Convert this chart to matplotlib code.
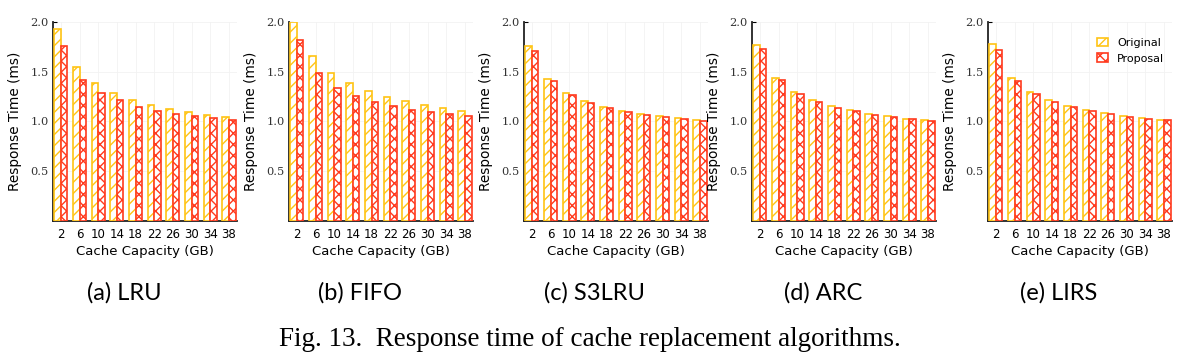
import matplotlib
matplotlib.use("Agg")
import matplotlib.pyplot as plt
import numpy as np

capacities = ["2", "6", "10", "14", "18", "22", "26", "30", "34", "38"]
subcaptions = ["(a) LRU", "(b) FIFO", "(c) S3LRU", "(d) ARC", "(e) LIRS"]

lru_original = [1.93, 1.55, 1.385, 1.284, 1.217, 1.166, 1.126, 1.092, 1.069, 1.049]
lru_proposal = [1.761, 1.422, 1.291, 1.217, 1.150, 1.109, 1.079, 1.055, 1.035, 1.015]
fifo_original = [2.0, 1.66, 1.489, 1.385, 1.308, 1.247, 1.203, 1.163, 1.136, 1.109]
fifo_proposal = [1.815, 1.489, 1.338, 1.26, 1.20, 1.16, 1.119, 1.092, 1.072, 1.052]
s3lru_original = [1.755, 1.429, 1.287, 1.207, 1.15, 1.109, 1.079, 1.059, 1.032, 1.012]
s3lru_proposal = [1.708, 1.408, 1.264, 1.187, 1.139, 1.099, 1.069, 1.045, 1.025, 1.008]
arc_original = [1.765, 1.439, 1.301, 1.213, 1.156, 1.116, 1.076, 1.052, 1.029, 1.012]
arc_proposal = [1.724, 1.415, 1.274, 1.193, 1.139, 1.103, 1.066, 1.045, 1.025, 1.008]
lirs_original = [1.775, 1.435, 1.297, 1.213, 1.153, 1.116, 1.082, 1.055, 1.032, 1.015]
lirs_proposal = [1.718, 1.408, 1.277, 1.20, 1.143, 1.103, 1.072, 1.049, 1.029, 1.012]

panels = [
    (lru_original, lru_proposal),
    (fifo_original, fifo_proposal),
    (s3lru_original, s3lru_proposal),
    (arc_original, arc_proposal),
    (lirs_original, lirs_proposal),
]

YELLOW = "#FFC414"
RED = "#FF3A1E"

plt.rcParams["hatch.linewidth"] = 1.0

W, H = 1197, 355
fig = plt.figure(figsize=(W / 100, H / 100), dpi=100)

lefts = [53, 289, 524, 752, 988]
ax_w = 184
ax_bottom = 134
ax_h = 199

x = np.arange(len(capacities))
bw = 0.35

for i, (orig, prop) in enumerate(panels):
    ax = fig.add_axes([lefts[i] / W, ax_bottom / H, ax_w / W, ax_h / H])
    ax.bar(x - bw / 2, orig, bw, facecolor="white", edgecolor=YELLOW,
           hatch="///", linewidth=1.2, label="Original", zorder=3)
    ax.bar(x + bw / 2, prop, bw, facecolor="white", edgecolor=RED,
           hatch="xxx", linewidth=1.2, label="Proposal", zorder=3)
    ax.set_xlim(-0.42, 9.43)
    ax.set_ylim(0, 2.0)
    ax.set_yticks([0.5, 1.0, 1.5, 2.0])
    ax.set_yticklabels(["0.5", "1.0", "1.5", "2.0"], fontfamily="DejaVu Serif",
                       fontsize=8.2, color="#333333")
    ax.set_xticks(x)
    ax.set_xticklabels(capacities, fontfamily="DejaVu Sans", fontsize=8.5)
    ax.tick_params(axis="y", direction="in", length=3, width=0.8, pad=3)
    ax.tick_params(axis="x", length=0, pad=5)
    ax.grid(True, color="#f2f2f2", linewidth=0.6, zorder=0)
    ax.set_axisbelow(True)
    for s in ["top", "right"]:
        ax.spines[s].set_visible(False)
    for s in ["left", "bottom"]:
        ax.spines[s].set_linewidth(1.3)
        ax.spines[s].set_color("#222222")
    ax.set_xlabel("Cache Capacity (GB)", fontfamily="DejaVu Sans", fontsize=9.5, labelpad=3)
    ax.set_ylabel("Response Time (ms)", fontfamily="DejaVu Sans", fontsize=9.8, labelpad=6)
    if i == 4:
        ax.legend(loc="upper right", frameon=False, fontsize=8, handlelength=1.0,
                  handleheight=0.8, handletextpad=0.8, borderaxespad=0.3,
                  bbox_to_anchor=(1.0, 0.96))
    cx = (lefts[i] + 71) / W
    fig.text(cx, 1 - 293 / H, subcaptions[i], ha="center", va="center",
             fontsize=17, fontfamily="Lato")

fig.text(590 / W, 1 - 339 / H, "Fig. 13.  Response time of cache replacement algorithms.",
         ha="center", va="center", fontsize=19.5, fontfamily="Liberation Serif")

fig.savefig("out.png", dpi=100)
